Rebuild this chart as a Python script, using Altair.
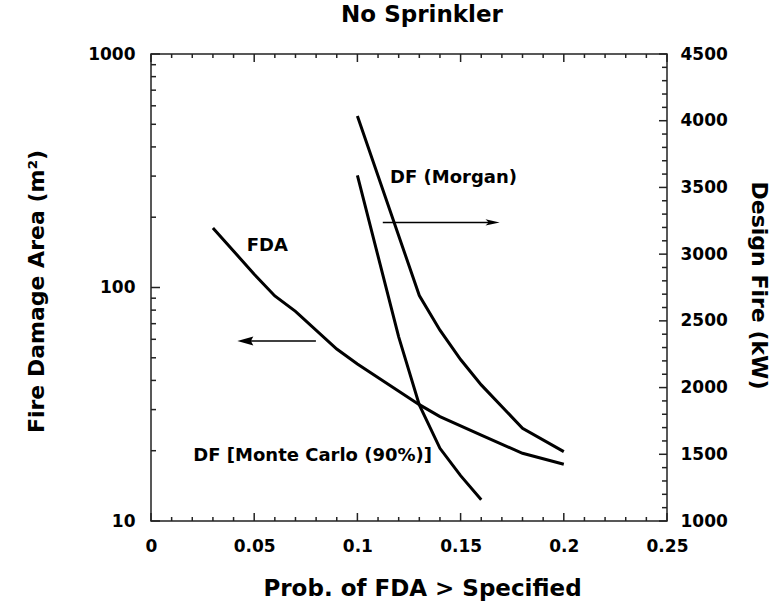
import altair as alt
import pandas as pd

# ---- data ----
fda_x = [0.03, 0.05, 0.06, 0.07, 0.09, 0.10, 0.13, 0.14, 0.16, 0.18, 0.20]
fda_y = [180, 114, 92, 79, 54.5, 47, 31.5, 28, 23.3, 19.5, 17.5]

morgan_x = [0.10, 0.13, 0.14, 0.15, 0.16, 0.18, 0.20]
morgan_y = [4035, 2690, 2430, 2210, 2020, 1695, 1520]

mc_x = [0.10, 0.12, 0.13, 0.14, 0.15, 0.16]
mc_y = [3590, 2380, 1870, 1545, 1340, 1160]

x_major = [0, 0.05, 0.10, 0.15, 0.20, 0.25]
x_minor = [0.01, 0.02, 0.03, 0.04, 0.06, 0.07, 0.08, 0.09, 0.11, 0.12, 0.13, 0.14,
           0.16, 0.17, 0.18, 0.19, 0.21, 0.22, 0.23, 0.24]
left_major = [10, 100, 1000]
left_minor = [20, 30, 40, 50, 60, 70, 80, 90, 200, 300, 400, 500, 600, 700, 800, 900]
right_major = [1000, 1500, 2000, 2500, 3000, 3500, 4000, 4500]
right_minor = [v for v in range(1100, 4500, 100) if v % 500 != 0]

ann_text = ["FDA", "DF (Morgan)", "DF [Monte Carlo (90%)]"]
ann_x = [0.0464, 0.1158, 0.0205]
ann_y = [150, 294, 18.9]

arrow_x = [0.1123, 0.0799]
arrow_x2 = [0.1655, 0.0457]
arrow_y = [190, 59]

W, H = 516, 467
FONT = "DejaVu Sans"

fda = pd.DataFrame({"x": fda_x, "y": fda_y})
morgan = pd.DataFrame({"x": morgan_x, "y": morgan_y})
mc = pd.DataFrame({"x": mc_x, "y": mc_y})
ann = pd.DataFrame({"x": ann_x, "y": ann_y, "t": ann_text})
arrows = pd.DataFrame({"x": arrow_x, "x2": arrow_x2, "y": arrow_y})

xscale = alt.Scale(domain=[0, 0.25], nice=False, zero=False)
lscale = alt.Scale(type="log", domain=[10, 1000], nice=False)
rscale = alt.Scale(domain=[1000, 4500], nice=False, zero=False)

lab = dict(labelFont=FONT, labelFontSize=17, labelFontWeight="bold", labelColor="black",
           titleFont=FONT, titleFontWeight="bold", titleColor="black",
           grid=False, domain=False, ticks=False, labelFlush=False, labelOverlap=False)

x_axis = alt.Axis(values=x_major, format="~g", title="Prob. of FDA > Specified",
                  titleFontSize=23, labelPadding=17, titleX=271, titleY=74,
                  titleBaseline="alphabetic", orient="bottom", **lab)
l_axis = alt.Axis(values=left_major, format="~g", title="Fire Damage Area (m²)",
                  titleFontSize=22, labelPadding=16, titleAngle=270, titleX=-115,
                  titleY=237, titleBaseline="middle", orient="left", **lab)
r_axis = alt.Axis(values=right_major, format="d", title="Design Fire (kW)",
                  titleFontSize=22, labelPadding=13, titleAngle=90, titleX=91,
                  titleY=231, titleBaseline="middle", orient="right", **lab)

X = alt.X("x:Q", scale=xscale, axis=x_axis)
YL = alt.Y("y:Q", scale=lscale, axis=l_axis)
YR = alt.Y("y:Q", scale=rscale, axis=r_axis)

# ---- left group (log scale) ----
fda_line = alt.Chart(fda).mark_line(color="black", strokeWidth=3).encode(x=X, y=YL)

texts = alt.Chart(ann).mark_text(font=FONT, fontSize=18, fontWeight="bold", align="left",
                                 baseline="middle", color="black").encode(x=X, y=YL, text="t:N")

shafts = alt.Chart(arrows).mark_rule(color="black", strokeWidth=1.5).encode(
    x=X, x2="x2:Q", y=YL)

head_r = alt.Chart(pd.DataFrame({"x": [arrow_x2[0]], "y": [arrow_y[0]]})).mark_point(
    shape="M1,0 L-1,-0.45 L-0.55,0 L-1,0.45 Z", size=200, filled=True, color="black",
    opacity=1).encode(x=X, y=YL)
head_l = alt.Chart(pd.DataFrame({"x": [arrow_x2[1]], "y": [arrow_y[1]]})).mark_point(
    shape="M-1,0 L1,-0.55 L0.7,0 L1,0.55 Z", size=256, filled=True, color="black",
    opacity=1).encode(x=X, y=YL)

tick_style = dict(color="#222", strokeWidth=1.5)
lt_major = alt.Chart(pd.DataFrame({"y": left_major})).mark_rule(**tick_style).encode(
    y=YL, x=alt.value(0), x2=alt.value(9))
lt_minor = alt.Chart(pd.DataFrame({"y": left_minor})).mark_rule(**tick_style).encode(
    y=YL, x=alt.value(0), x2=alt.value(5))
bt_major = alt.Chart(pd.DataFrame({"x": x_major})).mark_rule(**tick_style).encode(
    x=X, y=alt.value(H), y2=alt.value(H - 8))
bt_minor = alt.Chart(pd.DataFrame({"x": x_minor})).mark_rule(**tick_style).encode(
    x=X, y=alt.value(H), y2=alt.value(H - 4))
tt_major = alt.Chart(pd.DataFrame({"x": x_major})).mark_rule(**tick_style).encode(
    x=X, y=alt.value(0), y2=alt.value(8))
tt_minor = alt.Chart(pd.DataFrame({"x": x_minor})).mark_rule(**tick_style).encode(
    x=X, y=alt.value(0), y2=alt.value(4))

left = alt.layer(fda_line, texts, shafts, head_r, head_l, lt_major, lt_minor,
                 bt_major, bt_minor, tt_major, tt_minor)

# ---- right group (linear kW) ----
morgan_line = alt.Chart(morgan).mark_line(color="black", strokeWidth=3).encode(x=X, y=YR)
mc_line = alt.Chart(mc).mark_line(color="black", strokeWidth=3).encode(x=X, y=YR)
rt_major = alt.Chart(pd.DataFrame({"y": right_major})).mark_rule(**tick_style).encode(
    y=YR, x=alt.value(W - 8), x2=alt.value(W))
rt_minor = alt.Chart(pd.DataFrame({"y": right_minor})).mark_rule(**tick_style).encode(
    y=YR, x=alt.value(W - 5), x2=alt.value(W))

right = alt.layer(morgan_line, mc_line, rt_major, rt_minor)

chart = alt.layer(left, right).resolve_scale(y="independent").properties(
    width=W, height=H,
    background="white",
    title=alt.Title("No Sprinkler", font=FONT, fontSize=23, fontWeight="bold",
                    anchor="middle", frame="group", offset=25, baseline="alphabetic",
                    dx=13, dy=25, color="black"),
    autosize=alt.AutoSizeParams(type="none"),
    padding={"left": 151, "top": 54, "right": 113, "bottom": 85},
).configure_view(stroke="#222", strokeWidth=1.5)

chart.save("out.html", embed_options={"renderer": "svg", "actions": False})
